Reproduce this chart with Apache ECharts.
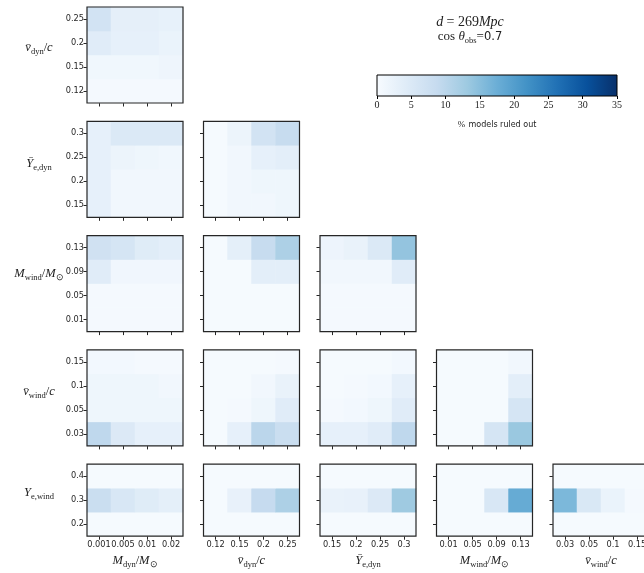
<!DOCTYPE html>
<html>
<head>
<meta charset="utf-8">
<script src="https://cdn.jsdelivr.net/npm/echarts@6/dist/echarts.min.js"></script>
<style>
  html, body { margin: 0; padding: 0; background: #fff; }
  #chart { width: 644px; height: 573px; }
</style>
</head>
<body>
<div id="chart"></div>
<script>
// Parameter grids (tick labels along each axis)
const Mdyn   = ['0.001', '0.005', '0.01', '0.02'];
const vdyn   = ['0.12', '0.15', '0.2', '0.25'];
const Yedyn  = ['0.15', '0.2', '0.25', '0.3'];
const Mwind  = ['0.01', '0.05', '0.09', '0.13'];
const vwind  = ['0.03', '0.05', '0.1', '0.15'];
const Yewind = ['0.2', '0.3', '0.4'];

// % of models ruled out; each matrix row is one y value (ascending), columns follow x (ascending)
const vdyn_Mdyn = [
  [0.5, 0.5, 0.5, 0.5],
  [1.2, 1.2, 1.2, 1.6],
  [4.0, 3.0, 3.0, 2.2],
  [6.5, 3.2, 3.2, 2.8]
];
const Yedyn_Mdyn = [
  [3.0, 1.0, 1.0, 1.0],
  [3.0, 1.0, 1.0, 1.0],
  [3.0, 2.0, 1.5, 1.2],
  [3.0, 5.0, 5.0, 5.0]
];
const Yedyn_vdyn = [
  [0.3, 1.0, 1.0, 1.5],
  [0.3, 1.0, 1.5, 1.5],
  [0.3, 1.0, 3.0, 3.5],
  [0.3, 2.0, 6.5, 8.5]
];
const Mwind_Mdyn = [
  [0.5, 0.5, 0.5, 0.5],
  [0.5, 0.5, 0.5, 0.5],
  [4.0, 1.3, 1.3, 1.3],
  [7.0, 6.0, 4.2, 3.5]
];
const Mwind_vdyn = [
  [0.3, 0.3, 0.3, 0.3],
  [0.3, 0.3, 0.3, 0.3],
  [0.3, 0.4, 3.5, 3.5],
  [0.3, 3.3, 8.5, 11.5]
];
const Mwind_Yedyn = [
  [0.5, 0.5, 0.5, 0.5],
  [0.5, 0.5, 0.5, 0.5],
  [1.0, 1.0, 1.0, 4.0],
  [1.8, 2.5, 5.0, 14.0]
];
const vwind_Mdyn = [
  [9.5, 4.8, 3.0, 3.0],
  [1.5, 1.5, 1.5, 1.5],
  [1.5, 1.5, 1.5, 1.0],
  [0.8, 0.8, 0.6, 0.6]
];
const vwind_vdyn = [
  [0.3, 3.0, 10.0, 8.0],
  [0.3, 0.5, 1.5, 4.0],
  [0.3, 0.3, 1.0, 2.5],
  [0.3, 0.3, 0.3, 0.6]
];
const vwind_Yedyn = [
  [3.0, 3.0, 4.0, 9.5],
  [0.5, 0.8, 1.5, 4.0],
  [0.3, 0.5, 0.8, 3.0],
  [0.3, 0.3, 0.3, 0.8]
];
const vwind_Mwind = [
  [0.3, 0.3, 6.0, 13.5],
  [0.3, 0.3, 0.3, 6.0],
  [0.3, 0.3, 0.3, 3.5],
  [0.3, 0.3, 0.3, 1.0]
];
const Yewind_Mdyn = [
  [0.3, 0.3, 0.3, 0.3],
  [8.0, 5.5, 4.2, 3.3],
  [0.3, 0.3, 0.3, 0.3]
];
const Yewind_vdyn = [
  [0.3, 0.3, 0.3, 0.3],
  [0.3, 2.7, 8.8, 11.5],
  [0.3, 0.3, 0.3, 0.3]
];
const Yewind_Yedyn = [
  [0.3, 0.3, 0.3, 0.3],
  [2.5, 2.7, 4.8, 13.0],
  [0.3, 0.3, 0.3, 0.3]
];
const Yewind_Mwind = [
  [0.3, 0.3, 0.3, 0.3],
  [0.3, 0.3, 5.5, 18.0],
  [0.3, 0.3, 0.3, 0.3]
];
const Yewind_vwind = [
  [0.3, 0.3, 0.3, 0.3],
  [16.0, 5.3, 2.2, 0.5],
  [0.3, 0.3, 0.3, 0.3]
];

// Colour scale
const cMin = 0, cMax = 35;
const cbTicks = [0, 5, 10, 15, 20, 25, 30, 35];
const blues = ['#f7fbff', '#deebf7', '#c6dbef', '#9ecae1', '#6baed6',
               '#4292c6', '#2171b5', '#08519c', '#08306b'];

// Axis titles (rich text: italic symbols, roman subscripts)
const params = {
  Mdyn:   { ticks: Mdyn,   label: '{i|M}{s|dyn}{r|/}{i|M}{s|\u2299}' },
  vdyn:   { ticks: vdyn,   label: '{i|v\u0304}{s|dyn}{r|/}{i|c}' },
  Yedyn:  { ticks: Yedyn,  label: '{i|\u0232}{s|e,dyn}' },
  Mwind:  { ticks: Mwind,  label: '{i|M}{s|wind}{r|/}{i|M}{s|\u2299}' },
  vwind:  { ticks: vwind,  label: '{i|v\u0304}{s|wind}{r|/}{i|c}' },
  Yewind: { ticks: Yewind, label: '{i|Y}{s|e,wind}' }
};
const order = ['Mdyn', 'vdyn', 'Yedyn', 'Mwind', 'vwind', 'Yewind'];

const panels = [
  { y: 'vdyn',   x: 'Mdyn',  z: vdyn_Mdyn },
  { y: 'Yedyn',  x: 'Mdyn',  z: Yedyn_Mdyn },
  { y: 'Yedyn',  x: 'vdyn',  z: Yedyn_vdyn },
  { y: 'Mwind',  x: 'Mdyn',  z: Mwind_Mdyn },
  { y: 'Mwind',  x: 'vdyn',  z: Mwind_vdyn },
  { y: 'Mwind',  x: 'Yedyn', z: Mwind_Yedyn },
  { y: 'vwind',  x: 'Mdyn',  z: vwind_Mdyn },
  { y: 'vwind',  x: 'vdyn',  z: vwind_vdyn },
  { y: 'vwind',  x: 'Yedyn', z: vwind_Yedyn },
  { y: 'vwind',  x: 'Mwind', z: vwind_Mwind },
  { y: 'Yewind', x: 'Mdyn',  z: Yewind_Mdyn },
  { y: 'Yewind', x: 'vdyn',  z: Yewind_vdyn },
  { y: 'Yewind', x: 'Yedyn', z: Yewind_Yedyn },
  { y: 'Yewind', x: 'Mwind', z: Yewind_Mwind },
  { y: 'Yewind', x: 'vwind', z: Yewind_vwind }
];

// Layout of the corner grid
const cell = 24;
const colLeft = [87, 203.5, 320, 436.5, 553];
const rowTop = [7, 121.3, 235.6, 349.9, 464.2];
// row titles sit with their bottom edge near the panel's vertical centre
const rowNameLift = [7, 6, 10, 6, 7];

const mathRich = {
  i: { fontFamily: 'Liberation Serif', fontStyle: 'italic', fontSize: 12.5, color: '#222', lineHeight: 18 },
  r: { fontFamily: 'Liberation Serif', fontSize: 12.5, color: '#222', lineHeight: 18 },
  s: { fontFamily: 'Liberation Serif', fontSize: 8.5, color: '#222', padding: [8, 0, 0, 0] }
};
const tickFont = { fontFamily: 'DejaVu Sans', fontSize: 8.2, color: '#262626' };

const grids = [], xAxes = [], yAxes = [], series = [];

panels.forEach((p, k) => {
  const row = order.indexOf(p.y) - 1;
  const col = order.indexOf(p.x);
  const xt = params[p.x].ticks, yt = params[p.y].ticks;
  grids.push({
    left: colLeft[col], top: rowTop[row],
    width: xt.length * cell, height: yt.length * cell,
    outerBoundsMode: 'none', containLabel: false,
    show: true, z: 10, borderColor: '#262626', borderWidth: 1.2, backgroundColor: 'transparent'
  });
  const bottomRow = row === 4, firstCol = col === 0;
  xAxes.push({
    type: 'category', gridIndex: k, data: xt,
    axisLine: { show: false },
    axisTick: { show: true, alignWithLabel: true, length: 3.5, lineStyle: { color: '#262626' } },
    axisLabel: Object.assign({ show: bottomRow, margin: 5, interval: 0 }, tickFont),
    splitLine: { show: false },
    name: bottomRow ? params[p.x].label : '',
    nameLocation: 'middle', nameGap: 16, nameMoveOverlap: false,
    nameTextStyle: { rich: mathRich }
  });
  const lift = rowNameLift[row];
  yAxes.push({
    type: 'category', gridIndex: k, data: yt,
    axisLine: { show: false },
    axisTick: { show: true, alignWithLabel: true, length: 3.5, lineStyle: { color: '#262626' } },
    axisLabel: Object.assign({ show: firstCol, margin: 3, interval: 0 }, tickFont),
    splitLine: { show: false },
    name: firstCol ? params[p.y].label : '',
    nameLocation: 'middle', nameRotate: 0, nameGap: 48, nameMoveOverlap: false,
    nameTextStyle: { rich: mathRich, align: 'center', verticalAlign: 'middle',
                     padding: [0, 0, 2 * lift, 0] }
  });
  const data = [];
  p.z.forEach((rowVals, yi) => rowVals.forEach((v, xi) => data.push([xi, yi, v])));
  series.push({
    type: 'heatmap', xAxisIndex: k, yAxisIndex: k, data: data,
    itemStyle: { borderWidth: 0 },
    emphasis: { disabled: true }
  });
});

// Colour bar: its own grid with a value axis from cMin to cMax
const cbIndex = panels.length;
grids.push({
  left: 377, top: 75, width: 240, height: 21,
  outerBoundsMode: 'none', containLabel: false,
  show: true, z: 10, borderColor: '#000', borderWidth: 1, backgroundColor: 'transparent'
});
xAxes.push({
  type: 'value', gridIndex: cbIndex, min: cMin, max: cMax, interval: 5,
  axisLine: { show: false },
  axisTick: { show: true, length: 3, lineStyle: { color: '#000' } },
  axisLabel: { fontFamily: 'Liberation Serif', fontSize: 10, color: '#222', margin: 4,
               customValues: cbTicks },
  splitLine: { show: false },
  name: '{r|%} {t|models ruled out}',
  nameLocation: 'middle', nameGap: 23,
  nameTextStyle: { rich: {
    r: { fontFamily: 'Liberation Serif', fontSize: 9, color: '#222' },
    t: { fontFamily: 'DejaVu Sans', fontSize: 8, color: '#222' }
  } }
});
yAxes.push({ type: 'value', gridIndex: cbIndex, min: 0, max: 1, show: false });
series.push({
  type: 'custom', xAxisIndex: cbIndex, yAxisIndex: cbIndex,
  data: [[cMin, cMax]],
  silent: true,
  renderItem: function (params, api) {
    const p0 = api.coord([api.value(0), 0]);
    const p1 = api.coord([api.value(1), 1]);
    return {
      type: 'rect',
      shape: { x: p0[0], y: p1[1], width: p1[0] - p0[0], height: p0[1] - p1[1] },
      style: {
        fill: {
          type: 'linear', x: 0, y: 0, x2: 1, y2: 0,
          colorStops: blues.map((c, i) => ({ offset: i / (blues.length - 1), color: c }))
        }
      }
    };
  }
});

const chart = echarts.init(document.getElementById('chart'), null, { renderer: 'canvas' });
chart.setOption({
  animation: false,
  backgroundColor: '#fff',
  grid: grids,
  xAxis: xAxes,
  yAxis: yAxes,
  visualMap: {
    type: 'continuous', show: false, min: cMin, max: cMax,
    seriesIndex: panels.map((_, k) => k),
    inRange: { color: blues }
  },
  graphic: [
    {
      type: 'text', x: 470, y: 22,
      style: {
        text: '{i|d} {r|= 269}{i|Mpc}',
        align: 'center', verticalAlign: 'middle',
        rich: {
          i: { fontFamily: 'Liberation Serif', fontStyle: 'italic', fontSize: 14, fill: '#222' },
          r: { fontFamily: 'Liberation Serif', fontSize: 14, fill: '#222' }
        }
      }
    },
    {
      type: 'text', x: 470, y: 37,
      style: {
        text: '{r|cos }{i|\u03b8}{s|obs}{r|=}{n|0.7}',
        align: 'center', verticalAlign: 'middle',
        rich: {
          i: { fontFamily: 'Liberation Serif', fontStyle: 'italic', fontSize: 13, fill: '#222', lineHeight: 16 },
          r: { fontFamily: 'Liberation Serif', fontSize: 13, fill: '#222', lineHeight: 16 },
          s: { fontFamily: 'Liberation Serif', fontSize: 8.5, fill: '#222', padding: [7, 0, 0, 0] },
          n: { fontFamily: 'DejaVu Sans', fontSize: 11.5, fill: '#222', lineHeight: 16 }
        }
      }
    }
  ],
  series: series
});
</script>
</body>
</html>
